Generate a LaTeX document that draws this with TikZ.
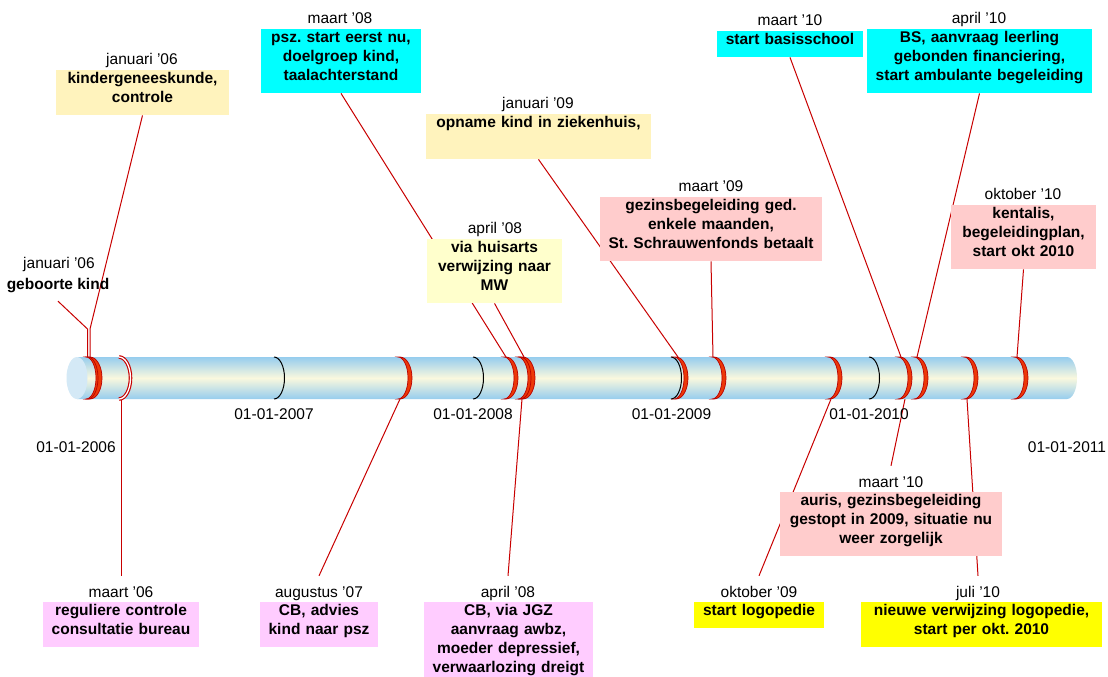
\documentclass[tikz,border=0pt]{standalone}
\usepackage{fontspec}
\setmainfont{Liberation Sans}
\frenchspacing
\definecolor{lyel}{RGB}{255,243,189}
\definecolor{pyel}{RGB}{255,255,204}
\definecolor{cyanbx}{RGB}{0,255,255}
\definecolor{pinkbx}{RGB}{255,204,204}
\definecolor{magbx}{RGB}{255,204,255}
\definecolor{yelbx}{RGB}{255,255,0}
\definecolor{lred}{RGB}{200,0,0}
\definecolor{ringfill}{RGB}{236,56,8}
\definecolor{ringedge}{RGB}{185,0,0}
\definecolor{tubeblue}{RGB}{150,205,238}
\definecolor{tubecream}{RGB}{250,248,222}
\definecolor{capblue}{RGB}{212,233,246}
\pgfdeclarelayer{paper}
\pgfdeclarelayer{wires}
\pgfsetlayers{paper,wires,main}
\newcommand{\tubearc}[2]{(#1,357) .. controls ({#1+0.5523*#2},357) and ({#1+#2},366.4) .. ({#1+#2},378) .. controls ({#1+#2},389.6) and ({#1+0.5523*#2},399) .. (#1,399)}
\newcommand{\tubearcr}[2]{(#1,399) .. controls ({#1+0.5523*#2},399) and ({#1+#2},389.6) .. ({#1+#2},378) .. controls ({#1+#2},366.4) and ({#1+0.5523*#2},357) .. (#1,357)}
\newcommand{\topst}{\rule{0pt}{13pt}}
\newcommand{\botst}{\rule[-13pt]{0pt}{13pt}}
\tikzset{
  evbox/.style={rectangle, inner xsep=0pt, inner ysep=0pt, align=center, anchor=north,
    font=\fontsize{15.5}{19}\selectfont\bfseries},
  datelbl/.style={anchor=base, inner xsep=0pt, inner ysep=0pt, text height=11pt, text depth=3pt,
    font=\fontsize{15.5}{19}\selectfont},
  datelow/.style={datelbl, inner ysep=10pt},
  yearlbl/.style={anchor=base, inner sep=0pt, font=\fontsize{15.5}{19}\selectfont},
  conn/.style={draw=lred, line width=1pt},
  crescent/.style={fill=ringfill, draw=ringedge, line width=0.7pt},
  yearring/.style={draw=black, line width=1pt}
}
\begin{document}
\begin{tikzpicture}[x=1pt,y=-1pt]
\begin{pgfonlayer}{paper}
\fill[white] (0,0) rectangle (1108,677);
\end{pgfonlayer}
\useasboundingbox (0,0) rectangle (1108,677);

% tube
\shade[top color=tubeblue, bottom color=tubeblue, middle color=tubecream]
  (77,357) -- (1067,357) .. controls (1072.5,357) and (1077,366.4) .. (1077,378)
  .. controls (1077,389.6) and (1072.5,399) .. (1067,399) -- (77,399) -- cycle;
\fill[capblue] (77,378) ellipse [x radius=10.5, y radius=21];

% year rings
\foreach \r in {274,473,671,869} {\draw[yearring] \tubearc{\r}{10.5};}
% event rings
\foreach \r in {86,88,398,504,518,521,674,712,828,898,914,964,1014}
  {\filldraw[crescent] \tubearc{\r+2}{12} -- \tubearcr{\r}{10} -- cycle;}
\draw[lred, line width=3.6pt] \tubearc{119}{11.5};
\draw[white, line width=1.3pt] \tubearc{119}{11.5};

% year labels
\node[yearlbl] (y2006) at (76,452) {01-01-2006};
\node[yearlbl] (y2007) at (274,419) {01-01-2007};
\node[yearlbl] (y2008) at (473,419) {01-01-2008};
\node[yearlbl] (y2009) at (671.5,419) {01-01-2009};
\node[yearlbl] (y2010) at (869,419) {01-01-2010};
\node[yearlbl] (y2011) at (1067,452) {01-01-2011};

% tube attachment points
\coordinate (j1) at (87.5,329);
\coordinate (j2) at (90,329);
\coordinate (tbirtha) at (87.5,357);
\coordinate (tbirthb) at (90,357);
\coordinate (tpsz) at (506,357);
\coordinate (thuis) at (524,357);
\coordinate (topname) at (678,357);
\coordinate (tgezins) at (713,357);
\coordinate (tbasis) at (901,357);
\coordinate (tbs) at (917,357);
\coordinate (tkent) at (1017,357);
\coordinate (breg) at (121,399);
\coordinate (bcbadv) at (400,399);
\coordinate (bjgz) at (522,399);
\coordinate (blogo) at (831,399);
\coordinate (bjuli) at (967,399);
\coordinate (bauris) at (905,399);

% top boxes
\node[evbox, fill=lyel, text width=173pt] (kinder) at (142.5,70) {\topst kindergeneeskunde,\\controle\botst};
\node[datelbl] (dkinder) at (142,64.5) {januari '06};
\node[evbox, fill=cyanbx, text width=160pt] (psz) at (341,29) {\topst psz. start eerst nu,\\doelgroep kind,\\taalachterstand\botst};
\node[datelbl] (dpsz) at (340,23.5) {maart '08};
\node[evbox, fill=lyel, text width=225pt] (opname) at (538.5,114) {\topst opname kind in ziekenhuis,\\\botst};
\node[datelbl] (dopname) at (538,108.5) {januari '09};
\node[evbox, fill=pyel, text width=135pt] (huis) at (494.5,239) {\topst via huisarts\\verwijzing naar\\MW\botst};
\node[datelbl] (dhuis) at (495,233.5) {april '08};
\node[evbox, fill=pinkbx, text width=222pt] (gezins) at (711,197) {\topst gezinsbegeleiding ged.\\enkele maanden,\\St. Schrauwenfonds betaalt\botst};
\node[datelbl] (dgezins) at (711,191.5) {maart '09};
\node[evbox, fill=cyanbx, text width=146pt] (basis) at (790,31) {\topst start basisschool\botst};
\node[datelbl] (dbasis) at (790,25.5) {maart '10};
\node[evbox, fill=cyanbx, text width=225pt] (bs) at (979.5,29) {\topst BS, aanvraag leerling\\gebonden financiering,\\start ambulante begeleiding\botst};
\node[datelbl] (dbs) at (979,23.5) {april '10};
\node[evbox, fill=pinkbx, text width=145pt] (kent) at (1023.5,205) {\topst kentalis,\\begeleidingplan,\\start okt 2010\botst};
\node[datelbl] (dkent) at (1023,199.5) {oktober '10};
\node[datelbl] (dgeb) at (59,268) {januari '06};
\node[datelbl, font=\fontsize{15.5}{19}\selectfont\bfseries, inner ysep=9pt] (geb) at (58,289) {geboorte kind};

% bottom boxes
\node[evbox, fill=magbx, text width=156pt] (reg) at (121,602) {\topst reguliere controle\\consultatie bureau\botst};
\node[datelow] (dreg) at (121,597) {maart '06};
\node[evbox, fill=magbx, text width=118pt] (cbadv) at (319,602) {\topst CB, advies\\kind naar psz\botst};
\node[datelow] (dcbadv) at (319,597) {augustus '07};
\node[evbox, fill=magbx, text width=169pt] (jgz) at (508.5,602) {\topst CB, via JGZ\\aanvraag awbz,\\moeder depressief,\\verwaarlozing dreigt\botst};
\node[datelow] (djgz) at (508,597) {april '08};
\node[evbox, fill=yelbx, text width=130pt] (logo) at (759,602) {\topst start logopedie\botst};
\node[datelow] (dlogo) at (759,597) {oktober '09};
\node[evbox, fill=yelbx, text width=241pt] (nieuwe) at (981.5,602) {\topst nieuwe verwijzing logopedie,\\start per okt. 2010\botst};
\node[datelow] (djuli) at (978,597) {juli '10};
\node[evbox, fill=pinkbx, text width=222pt] (auris) at (891,492) {\topst auris, gezinsbegeleiding\\gestopt in 2009, situatie nu\\weer zorgelijk\botst};
\node[datelow] (dauris) at (891,487) {maart '10};

% connectors
\begin{pgfonlayer}{wires}
\draw[conn] (kinder.south) -- (j2) -- (tbirthb);
\draw[conn] (geb.south) -- (j1) -- (tbirtha);
\draw[conn] (psz.south) -- (tpsz);
\draw[conn] (huis.south) -- (thuis);
\draw[conn] (opname.south) -- (topname);
\draw[conn] (gezins.south) -- (tgezins);
\draw[conn] (basis.south) -- (tbasis);
\draw[conn] (bs.south) -- (tbs);
\draw[conn] (kent.south) -- (tkent);
\draw[conn] (dreg.north) -- (breg);
\draw[conn] (dcbadv.north) -- (bcbadv);
\draw[conn] (djgz.north) -- (bjgz);
\draw[conn] (dlogo.north) -- (blogo);
\draw[conn] (djuli.north) -- (bjuli);
\draw[conn] (dauris.north) -- (bauris);
\end{pgfonlayer}
\end{tikzpicture}
\end{document}
